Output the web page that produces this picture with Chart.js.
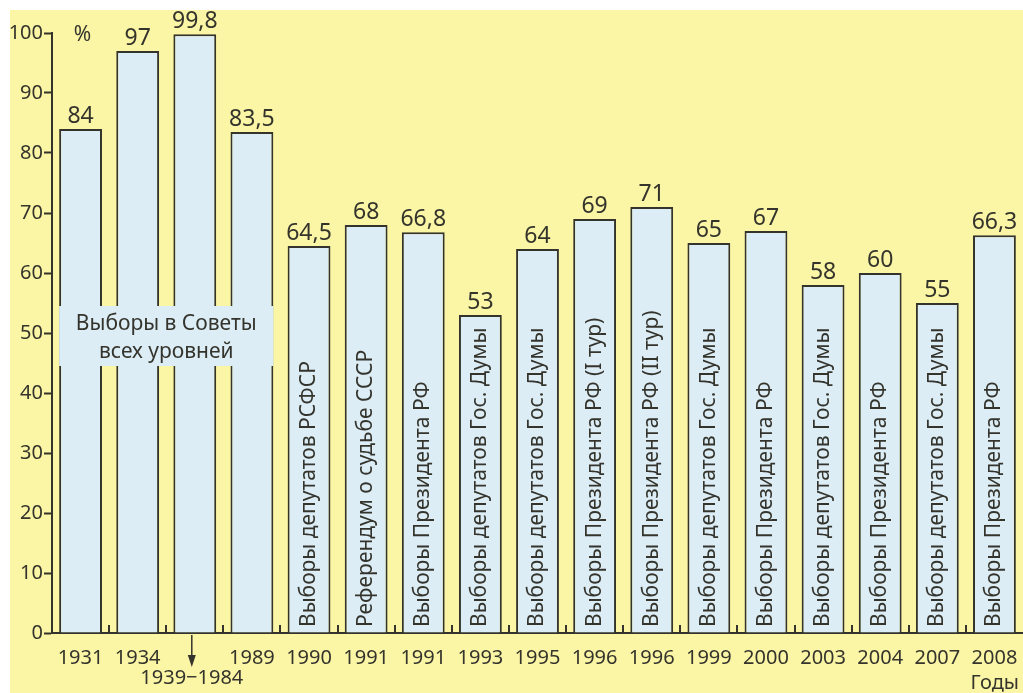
<!DOCTYPE html>
<html>
<head>
<meta charset="utf-8">
<script src="https://cdn.jsdelivr.net/npm/chart.js@4"></script>
<style>
  html, body { margin: 0; padding: 0; background: #ffffff; }
  #wrap { width: 1023px; height: 693px; }
</style>
</head>
<body>
<div id="wrap"><canvas id="turnout"></canvas></div>
<script>
// years under the bars ('' for the 1939-1984 bar, drawn separately)
const years = ['1931', '1934', '', '1989', '1990', '1991', '1991', '1993', '1995', '1996', '1996', '1999', '2000', '2003', '2004', '2007', '2008'];
const turnout = [84, 97, 99.8, 83.5, 64.5, 68, 66.8, 53, 64, 69, 71, 65, 67, 58, 60, 55, 66.3];
const events = [
	'', '', '', '',
	'Выборы депутатов РСФСР',
	'Референдум о судьбе СССР',
	'Выборы Президента РФ',
	'Выборы депутатов Гос. Думы',
	'Выборы депутатов Гос. Думы',
	'Выборы Президента РФ (I тур)',
	'Выборы Президента РФ (II тур)',
	'Выборы депутатов Гос. Думы',
	'Выборы Президента РФ',
	'Выборы депутатов Гос. Думы',
	'Выборы Президента РФ',
	'Выборы депутатов Гос. Думы',
	'Выборы Президента РФ'
];
const yTicks = [0, 10, 20, 30, 40, 50, 60, 70, 80, 90, 100];
const sovietNote = ['Выборы в Советы', 'всех уровней'];
const sovietSpan = '1939−1984';

const FONT = '"Noto Sans", "Open Sans", sans-serif';
const INK = '#34342c';

// yellow page + extra drawing
const decor = {
	id: 'decor',
	beforeDraw(chart) {
		const c = chart.ctx;
		c.save();
		c.fillStyle = '#fbf5a6';
		c.fillRect(10, 10, chart.width - 10, chart.height - 10);
		c.restore();
	},
	afterDatasetsDraw(chart) {
		const c = chart.ctx;
		const x = chart.scales.x;
		const y = chart.scales.y;
		const bars = chart.getDatasetMeta(0).data;
		c.save();

		// values above bars
		c.fillStyle = INK;
		c.font = '23px ' + FONT;
		c.textAlign = 'center';
		c.textBaseline = 'bottom';
		bars.forEach((b, i) => {
			c.fillText(String(turnout[i]).replace('.', ','), b.x, b.y - 1);
		});

		// rotated event names inside bars
		c.font = '21px ' + FONT;
		c.textAlign = 'left';
		c.textBaseline = 'middle';
		bars.forEach((b, i) => {
			if (!events[i]) return;
			c.save();
			c.translate(b.x, y.getPixelForValue(0) - 6);
			c.rotate(-Math.PI / 2);
			c.fillText(events[i], 0, 0);
			c.restore();
		});

		// box over the soviet bars
		const bx0 = bars[0].x - bars[0].width / 2;
		const bx1 = bars[3].x + bars[3].width / 2;
		const by0 = y.getPixelForValue(54.5);
		const by1 = y.getPixelForValue(44.5);
		c.fillStyle = '#dcedf6';
		c.fillRect(bx0, by0, bx1 - bx0, by1 - by0);
		c.fillStyle = INK;
		c.font = '21px ' + FONT;
		c.textAlign = 'center';
		c.fillText(sovietNote[0], (bx0 + bx1) / 2, by0 + 18);
		c.fillText(sovietNote[1], (bx0 + bx1) / 2, by0 + 46);

		// small up ticks between categories
		const base = y.getPixelForValue(0);
		c.strokeStyle = INK;
		c.lineWidth = 2;
		for (let i = 1; i < years.length; i++) {
			const px = Math.round((x.getPixelForValue(i - 1) + x.getPixelForValue(i)) / 2);
			c.beginPath();
			c.moveTo(px, base);
			c.lineTo(px, base - 8);
			c.stroke();
		}

		// arrow + 1939-1984 label
		const ax = x.getPixelForValue(2) - 3;
		c.lineWidth = 1.5;
		c.beginPath();
		c.moveTo(ax, base + 2);
		c.lineTo(ax, base + 30);
		c.stroke();
		c.fillStyle = INK;
		c.beginPath();
		c.moveTo(ax - 4, base + 22);
		c.lineTo(ax + 4, base + 22);
		c.lineTo(ax, base + 34);
		c.closePath();
		c.fill();
		c.font = '20px ' + FONT;
		c.textAlign = 'center';
		c.fillText(sovietSpan, ax, base + 45);

		// % and Годы
		c.font = '21px ' + FONT;
		c.fillText('%', x.getPixelForValue(0) + 2, y.getPixelForValue(100) + 2);
		c.font = '20px ' + FONT;
		c.textAlign = 'right';
		c.fillText('Годы', chart.width - 4, base + 50);
		c.restore();
	}
};

new Chart(document.getElementById('turnout'), {
	type: 'bar',
	data: {
		labels: years,
		datasets: [{
			data: turnout,
			backgroundColor: '#dcedf6',
			borderColor: INK,
			borderWidth: 2,
			borderSkipped: 'bottom',
			barPercentage: 0.75,
			categoryPercentage: 1
		}]
	},
	options: {
		responsive: true,
		maintainAspectRatio: false,
		animation: false,
		layout: { padding: { top: 33, right: 0, left: 0, bottom: 0 } },
		plugins: { legend: { display: false }, tooltip: { enabled: false } },
		scales: {
			x: {
				grid: { display: false },
				border: { color: INK, width: 2 },
				ticks: { color: INK, font: { family: FONT, size: 20 }, padding: 5, maxRotation: 0, autoSkip: false },
				afterFit(s) { s.height = 60; }
			},
			y: {
				min: 0,
				max: 100,
				afterBuildTicks(s) { s.ticks = yTicks.map(v => ({ value: v })); },
				grid: { drawOnChartArea: false, tickLength: 8, tickWidth: 2, color: INK },
				border: { color: INK, width: 2 },
				ticks: { color: INK, font: { family: FONT, size: 20 }, padding: 1 },
				afterFit(s) { s.width = 52; }
			}
		}
	},
	plugins: [decor]
});
</script>
</body>
</html>
